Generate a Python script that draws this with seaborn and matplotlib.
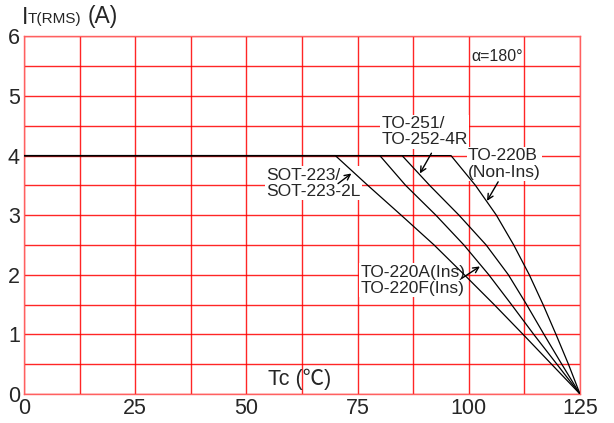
import numpy as np
import pandas as pd
import matplotlib
matplotlib.use("Agg")
import matplotlib.pyplot as plt
import seaborn as sns

# derating curves (Tc in degC, current in A)
current = [4, 4, 3.5, 3.0, 2.5, 2.0, 1.5, 1.0, 0.5, 0]
tc_sot223 = [0, 70, 77.3, 84.8, 92.2, 99.0, 105.7, 112.2, 118.6, 125]
tc_to220a = [0, 80, 85.8, 92.6, 98.9, 104.5, 109.6, 114.6, 119.8, 125]
tc_to251 = [0, 85, 91.2, 97.8, 103.9, 108.9, 113.0, 116.9, 120.9, 125]
tc_to220b = [0, 96, 101.5, 106.2, 110.1, 113.6, 116.7, 119.6, 122.4, 125]

x_ticks = [0, 25, 50, 75, 100, 125]
y_ticks = [0, 1, 2, 3, 4, 5, 6]

frames = []
for name, tc in [("SOT-223", tc_sot223), ("TO-220A", tc_to220a),
                 ("TO-251", tc_to251), ("TO-220B", tc_to220b)]:
    frames.append(pd.DataFrame({"Tc": tc, "I": current, "pkg": name}))
df = pd.concat(frames, ignore_index=True)

sns.set_style("white")
plt.rcParams["font.family"] = ["Liberation Sans", "DejaVu Sans"]

fig = plt.figure(figsize=(6.14, 4.23), dpi=100)
ax = fig.add_axes([24 / 614, 1 - 394 / 423, 556 / 614, 357.6 / 423])

sns.lineplot(data=df, x="Tc", y="I", units="pkg", estimator=None, sort=False,
             color="black", lw=0.9, ax=ax, zorder=3)

ax.set_xlim(0, 125)
ax.set_ylim(0, 6)
ax.set_xticks(x_ticks)
ax.set_xticks(np.arange(0, 126, 12.5), minor=True)
ax.set_yticks(y_ticks)
ax.set_yticks(np.arange(0, 6.01, 0.5), minor=True)
ax.grid(True, which="both", color="#ff0000", lw=1, alpha=0.85)
ax.set_axisbelow(True)
for s in ax.spines.values():
    s.set_color("#ff6060")
    s.set_linewidth(1)
ax.tick_params(which="both", length=0)
ax.tick_params(axis="x", labelsize=15.5, pad=3)
ax.tick_params(axis="y", labelsize=15.5, pad=3)
ax.set_xlabel("")
ax.set_ylabel("")

# y axis title  I T(RMS) (A)
fig.text(22 / 614, 1 - 23.5 / 423, "I", fontsize=16.5, va="baseline")
fig.text(28 / 614, 1 - 23.5 / 423, "T(RMS)", fontsize=11, va="baseline")
fig.text(88 / 614, 1 - 23.5 / 423, "(A)", fontsize=16.5, va="baseline")

ax.text(54.8, 0.24, "Tc (℃)", fontsize=15.5, va="center", ha="left",
        family=["Liberation Sans", "Noto Sans CJK SC"])
ax.text(100.5, 5.67, "α=180°", fontsize=11.5, va="center", ha="left")

box = dict(facecolor="white", edgecolor="none", pad=1)
ax.text(80.4, 4.66, "TO-251/\nTO-252-4R", fontsize=12.5, va="top", ha="left",
        linespacing=1.1, bbox=box, zorder=2)
ax.text(99.8, 4.12, "TO-220B\n(Non-Ins)", fontsize=12.5, va="top", ha="left",
        linespacing=1.1, bbox=box, zorder=2)
ax.text(54.4, 3.80, "SOT-223/\nSOT-223-2L", fontsize=12.5, va="top", ha="left",
        linespacing=1.1, bbox=box, zorder=2)
ax.text(75.6, 2.17, "TO-220A(Ins)\nTO-220F(Ins)", fontsize=12.5, va="top", ha="left",
        linespacing=1.1, bbox=box, zorder=2)

arrow = dict(arrowstyle="->", color="black", lw=1, shrinkA=0, shrinkB=0)
ax.annotate("", xy=(73.6, 3.70), xytext=(70.6, 3.53), arrowprops=arrow, zorder=5)
ax.annotate("", xy=(89.0, 3.70), xytext=(91.6, 4.04), arrowprops=arrow, zorder=5)
ax.annotate("", xy=(104.1, 3.24), xytext=(106.6, 3.56), arrowprops=arrow, zorder=5)
ax.annotate("", xy=(102.5, 2.14), xytext=(98.4, 1.94), arrowprops=arrow, zorder=5)

fig.savefig("out.png", dpi=100)
